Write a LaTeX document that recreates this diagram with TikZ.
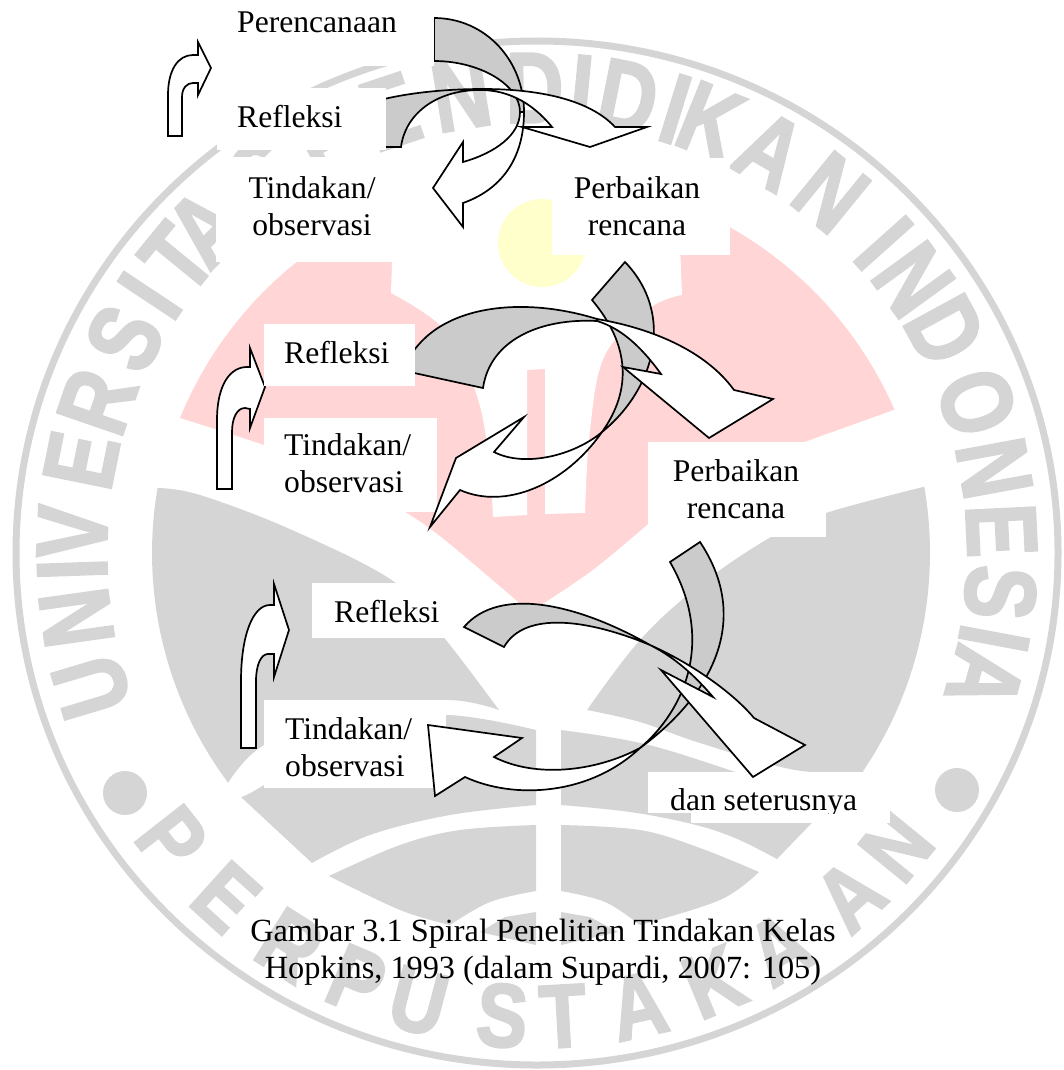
\documentclass[tikz,border=0pt]{standalone}
\usepackage{fontspec}
\setmainfont{Liberation Serif}
\newfontfamily\wmfont[FakeBold=2.5]{Liberation Sans Bold}
\definecolor{wmgray}{HTML}{D6D5D5}
\definecolor{wmred}{HTML}{FFD5D5}
\definecolor{wmyellow}{HTML}{FFFFCC}
\definecolor{backgray}{HTML}{CBCBCB}
\newcommand{\wmbig}[1]{\scalebox{.8}[1]{\fontsize{100}{100}\selectfont #1}}
\newcommand{\wmsmall}[1]{\scalebox{.85}[1]{\fontsize{90}{90}\selectfont #1}}
\tikzset{
  wm/.style={fill=wmgray,draw=none},
  wmletter/.style={text=wmgray,font=\wmfont,inner sep=0pt,anchor=center},
  backband/.style={fill=backgray,draw=black,line width=1.7pt},
  frontband/.style={fill=white,draw=black,line width=1.7pt},
  bent/.style={fill=white,draw=black,line width=1.7pt},
  maskbox/.style={fill=white,draw=none},
  lbl/.style={font=\fontsize{31.6}{37}\selectfont,inner sep=0pt,anchor=base west},
  lblc/.style={font=\fontsize{31.6}{37}\selectfont,inner sep=0pt,anchor=base,align=center},
  smooth curve/.style={smooth,tension=.6}
}
\begin{document}
\begin{tikzpicture}[x=1pt,y=-1pt]
\useasboundingbox (0,0) rectangle (1063,1070);
\clip (0,0) rectangle (1063,1070);
% ---- watermark seal
\draw[wmgray,line width=7pt] (537,553) ellipse [x radius=521pt,y radius=512pt];
\foreach \a/\l [count=\n] in {196.7/U,188/N,182/I,177.4/V,168.5/E,161/R,152.5/S,146.4/I,140.7/T,135.6/A,126/S,117/P,108.4/E,99.4/N,90.3/D,84.5/I,78.7/D,72.7/I,68.1/K,59.9/A,50.8/N,41.8/I,36/N,28.6/D,18.9/O,10.5/N,2.8/E,-4.9/S,-10.6/I,-15.6/A}
  \node[wmletter,rotate=\a-90] (wmtop\n) at ({537+465*cos(\a)},{553-465*sin(\a)}) {\wmbig{\l}};
\foreach \a/\l [count=\n] in {218.1/P,227.9/E,237.8/R,247.1/P,255.2/U,265.7/S,273.2/T,282.6/A,292.4/K,301.5/A,312.4/A,320.8/N}
  \node[wmletter,rotate=\a+90] (wmbot\n) at ({537+464*cos(\a)},{553-464*sin(\a)}) {\wmsmall{\l}};
\fill[wmgray] (125,793) circle [radius=22pt];
\fill[wmgray] (957,790) circle [radius=22pt];
% red shape
\fill[wmred] plot[domain=157.7:23.6,samples=60] ({539+388*cos(\x)},{565-388*sin(\x)})
  -- (807,441) -- (700,480) -- plot[smooth curve] coordinates {(641,530) (590,572) (530,612)}
  -- plot[smooth curve] coordinates {(530,612) (445,540) (407,513)}
  -- plot[smooth curve] coordinates {(407,513) (330,470) (264,445) (180,418)} -- cycle;
\fill[white] (395,170) -- (391,293) -- plot[smooth curve] coordinates {(391,293) (445,330) (475,390) (488,450) (493,517)}
  -- (527,515) -- (527,370) -- (545,369) -- (545,514) -- (585,513)
  -- plot[smooth curve] coordinates {(585,513) (590,430) (605,355) (650,308) (682,295)} -- (677,170) -- cycle;
\fill[wmyellow] (542,243) circle [radius=44pt];
% gray shapes
\fill[wm] plot[domain=170.3:216.7,samples=40] ({537+385*cos(\x)},{553-385*sin(\x)})
  -- plot[smooth curve] coordinates {(228,783) (264,745) (350,712) (446,700) (499,710)}
  -- plot[smooth curve] coordinates {(499,710) (446,640) (396,583) (292,530) (200,495) (158,488)} -- cycle;
\fill[wm] plot[domain=9.8:-34,samples=40] ({541+389*cos(\x)},{553-389*sin(\x)})
  -- plot[smooth curve] coordinates {(863,772) (795,770) (700,743) (640,722) (587,710)}
  -- plot[smooth curve] coordinates {(587,710) (640,640) (700,585) (771,537) (826,513) (923,487)} -- cycle;
\fill[wm] plot[smooth curve] coordinates {(536,730) (446,715) (350,728) (264,785) (241,797)} -- (312,863)
  -- plot[smooth curve] coordinates {(312,863) (370,835) (450,815) (536,805)} -- cycle;
\fill[wm] plot[smooth curve] coordinates {(561,730) (649,745) (760,780) (832,802)} -- (777,859)
  -- plot[smooth curve] coordinates {(777,859) (735,838) (692,824) (630,812) (561,805)} -- cycle;
\fill[wm] plot[smooth curve] coordinates {(329,876) (400,845) (460,830) (536,825)} -- (536,891)
  -- plot[smooth curve] coordinates {(536,891) (490,902) (450,925)}
  -- plot[smooth curve] coordinates {(450,925) (400,910) (329,876)} -- cycle;
\fill[wm] plot[smooth curve] coordinates {(561,825) (640,830) (700,848) (759,872)}
  -- plot[smooth curve] coordinates {(759,872) (720,900) (640,925)}
  -- plot[smooth curve] coordinates {(640,925) (605,902) (561,891)} -- cycle;
\fill[wm] (536,912) -- (505,917) -- (480,932) -- (536,945) -- cycle;
\fill[wm] (561,912) -- (590,917) -- (618,932) -- (561,945) -- cycle;
% ---- masks under the arrows
\fill[maskbox] (216,157) rectangle (395,262);
\fill[maskbox] (552,158) rectangle (730,255);
\fill[maskbox] (264,418) rectangle (437,512);
\fill[maskbox] (648,442) rectangle (826,537);
\fill[maskbox] (312,583) rectangle (450,638);
\fill[maskbox] (264,700) rectangle (446,788);
\fill[maskbox] (648,772) rectangle (890,813);
\fill[maskbox] (691,813) rectangle (890,823);
% ---- bent up-right arrows
\draw[bent] (168,136) -- (168,95) .. controls (168,70) and (178,55) .. (193,55) -- (198,55) -- (198,42) -- (211,68) -- (198,95) -- (198,83) -- (193,83) .. controls (187,83) and (182,88) .. (182,97) -- (182,136) -- cycle;
\draw[bent] (217,489) -- (217,420) .. controls (217,385) and (230,367) .. (247,367) -- (250,367) -- (250,348) -- (265,387) -- (250,428) -- (250,409) -- (245,408) .. controls (237,408) and (232,418) .. (232,432) -- (232,489) -- cycle;
\draw[bent] (241,748) -- (241,681) .. controls (241,635) and (253,605) .. (270,605) -- (274,605) -- (274,584) -- (289,630) -- (274,677) -- (274,654) -- (268,654) .. controls (261,654) and (256,665) .. (256,681) -- (256,748) -- cycle;
% ---- spiral 1
\draw[backband] (434,18) .. controls (485,18) and (524,60) .. (524,112)
  -- (520,112) .. controls (520,85) and (480,61) .. (434,61) -- cycle;
\draw[frontband] (524,112) .. controls (524,160) and (500,190) .. (463,203)
  -- (463,227) -- (433,188) -- (463,142) -- (463,162)
  .. controls (495,153) and (520,135) .. (520,112) -- cycle;
\draw[backband] (376,101) .. controls (410,92) and (450,89) .. (483,89)
  -- (480,90) .. controls (435,90) and (405,115) .. (401,147) -- (376,147) -- cycle;
\draw[frontband] (483,89) .. controls (540,89) and (590,100) .. (615,127)
  -- (647,127) -- (590,147) -- (522,127) -- (552,127)
  .. controls (530,100) and (505,90) .. (480,90) -- cycle;
% ---- spiral 2
\draw[backband] (625,262) .. controls (676,315) and (654,390) .. (602,432)
  .. controls (632,390) and (630,345) .. (592,300) -- cycle;
\draw[frontband] (602,432) .. controls (565,485) and (505,510) .. (460,490)
  -- (430,527) -- (456,458) -- (524,417) -- (494,452)
  .. controls (525,468) and (575,455) .. (602,432) -- cycle;
\draw[backband] (405,366) .. controls (432,305) and (520,295) .. (597,319)
  -- (597,321) .. controls (540,318) and (490,340) .. (483,388) -- (405,371) -- cycle;
\draw[frontband] (597,319) .. controls (650,328) and (705,350) .. (734,390)
  -- (773,399) -- (709,438) -- (623,367) -- (661,374)
  .. controls (640,345) and (620,328) .. (597,321) -- cycle;
% ---- spiral 3
\draw[backband] (700,542) .. controls (752,620) and (712,695) .. (640,748)
  .. controls (685,710) and (715,640) .. (670,562) -- cycle;
\draw[frontband] (640,748) .. controls (590,795) and (515,800) .. (465,777)
  -- (435,796) -- (428,725) -- (522,738) -- (494,757)
  .. controls (535,778) and (595,772) .. (640,748) -- cycle;
\draw[backband] (464,627) .. controls (500,585) and (580,605) .. (650,645)
  .. controls (590,620) and (525,610) .. (504,647) -- cycle;
\draw[frontband] (650,645) .. controls (695,665) and (735,695) .. (754,718)
  -- (805,745) -- (753,777) -- (661,670) -- (713,697)
  .. controls (690,670) and (670,655) .. (650,645) -- cycle;
% ---- masks over the arrows
\fill[maskbox] (218,0) rectangle (434,66);
\fill[maskbox] (217,88) rectangle (386,150);
\fill[maskbox] (264,324) rectangle (415,386);
% ---- labels
\node[lbl] (plan) at (237,33) {Perencanaan};
\node[lbl] (ref1) at (237,128) {Refleksi};
\node[lblc] (act1) at (312,235) {Tindakan/\\observasi};
\node[lblc] (imp1) at (637,235) {Perbaikan\\rencana};
\node[lbl] (ref2) at (284,363) {Refleksi};
\node[lbl,align=left] (act2) at (284,492) {Tindakan/\\observasi};
\node[lblc] (imp2) at (736,518) {Perbaikan\\rencana};
\node[lbl] (ref3) at (334,622) {Refleksi};
\node[lbl,align=left] (act3) at (285,776) {Tindakan/\\observasi};
\begin{scope}
\clip (648,772) rectangle (890,813);
\node[lbl] (etc) at (670,810.6) {dan seterusnya};
\end{scope}
\node[lblc,font=\fontsize{32.3}{36.5}\selectfont] (cap) at (543,978) {Gambar 3.1 Spiral Penelitian Tindakan Kelas\\Hopkins, 1993 (dalam Supardi, 2007: 105)};
\end{tikzpicture}
\end{document}
